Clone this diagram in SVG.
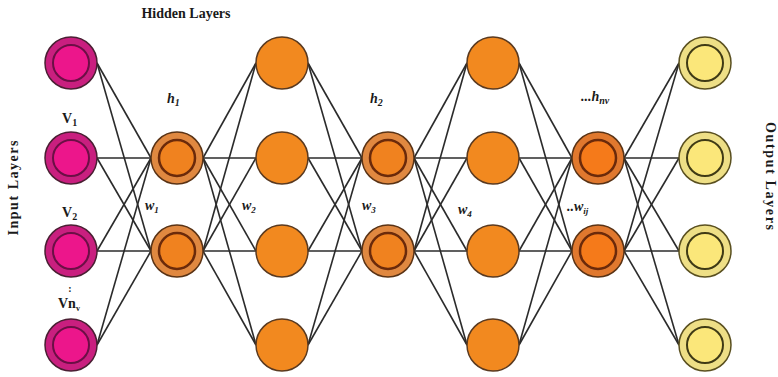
<svg xmlns="http://www.w3.org/2000/svg" width="778" height="377" viewBox="0 0 778 377">
<style>
.bg{fill:#ffffff}
.e line{stroke:#2b2b2b;stroke-width:1.6}
.io{fill:#c91f7f;stroke:#4a1f33;stroke-width:1.5}
.ii{fill:#ec168b;stroke:#6b0f45;stroke-width:2}
.ho{fill:#e08840;stroke:#5a3315;stroke-width:1.5}
.hi{fill:#f0821f;stroke:#6b2a0a;stroke-width:2.5}
.no{fill:#f2891f;stroke:#5a3a20;stroke-width:1.5}
.vo{fill:#e0782e;stroke:#5a3315;stroke-width:1.5}
.vi{fill:#f57a1a;stroke:#6b2a0a;stroke-width:2.5}
.oo{fill:#eedf86;stroke:#5a5020;stroke-width:1.5}
.oi{fill:#fbe77a;stroke:#3f3a15;stroke-width:2}
text{font-family:"Liberation Serif","Times New Roman",serif;fill:#1a1a1a;font-weight:bold}
.it{font-style:italic;font-size:14px}
.lb{font-size:14px}
</style>
<rect class="bg" x="0" y="0" width="778" height="377"/>
<g id="connectors" class="e">
<line x1="97" y1="63" x2="151" y2="158"/><line x1="97" y1="63" x2="151" y2="251"/>
<line x1="97" y1="158" x2="151" y2="158"/><line x1="97" y1="158" x2="151" y2="251"/>
<line x1="97" y1="251" x2="151" y2="158"/><line x1="97" y1="251" x2="151" y2="251"/>
<line x1="97" y1="345" x2="151" y2="158"/><line x1="97" y1="345" x2="151" y2="251"/>
<line x1="203" y1="158" x2="256" y2="63"/><line x1="203" y1="158" x2="256" y2="158"/><line x1="203" y1="158" x2="256" y2="251"/><line x1="203" y1="158" x2="256" y2="345"/>
<line x1="203" y1="251" x2="256" y2="63"/><line x1="203" y1="251" x2="256" y2="158"/><line x1="203" y1="251" x2="256" y2="251"/><line x1="203" y1="251" x2="256" y2="345"/>
<line x1="308" y1="63" x2="362" y2="158"/><line x1="308" y1="63" x2="362" y2="251"/>
<line x1="308" y1="158" x2="362" y2="158"/><line x1="308" y1="158" x2="362" y2="251"/>
<line x1="308" y1="251" x2="362" y2="158"/><line x1="308" y1="251" x2="362" y2="251"/>
<line x1="308" y1="345" x2="362" y2="158"/><line x1="308" y1="345" x2="362" y2="251"/>
<line x1="414" y1="158" x2="467" y2="63"/><line x1="414" y1="158" x2="467" y2="158"/><line x1="414" y1="158" x2="467" y2="251"/><line x1="414" y1="158" x2="467" y2="345"/>
<line x1="414" y1="251" x2="467" y2="63"/><line x1="414" y1="251" x2="467" y2="158"/><line x1="414" y1="251" x2="467" y2="251"/><line x1="414" y1="251" x2="467" y2="345"/>
<line x1="519" y1="63" x2="572" y2="158"/><line x1="519" y1="63" x2="572" y2="251"/>
<line x1="519" y1="158" x2="572" y2="158"/><line x1="519" y1="158" x2="572" y2="251"/>
<line x1="519" y1="251" x2="572" y2="158"/><line x1="519" y1="251" x2="572" y2="251"/>
<line x1="519" y1="345" x2="572" y2="158"/><line x1="519" y1="345" x2="572" y2="251"/>
<line x1="624" y1="158" x2="679" y2="63"/><line x1="624" y1="158" x2="679" y2="158"/><line x1="624" y1="158" x2="679" y2="251"/><line x1="624" y1="158" x2="679" y2="345"/>
<line x1="624" y1="251" x2="679" y2="63"/><line x1="624" y1="251" x2="679" y2="158"/><line x1="624" y1="251" x2="679" y2="251"/><line x1="624" y1="251" x2="679" y2="345"/>
</g>
<g id="in1"><circle class="io" cx="71" cy="63" r="26"/><circle class="ii" cx="71" cy="63" r="18"/></g>
<g id="in2"><circle class="io" cx="71" cy="158" r="26"/><circle class="ii" cx="71" cy="158" r="18"/></g>
<g id="in3"><circle class="io" cx="71" cy="251" r="26"/><circle class="ii" cx="71" cy="251" r="18"/></g>
<g id="in4"><circle class="io" cx="71" cy="345" r="26"/><circle class="ii" cx="71" cy="345" r="18"/></g>
<g id="h1a"><circle class="ho" cx="177" cy="158" r="26"/><circle class="hi" cx="177" cy="158" r="18"/></g>
<g id="h1b"><circle class="ho" cx="177" cy="251" r="26"/><circle class="hi" cx="177" cy="251" r="18"/></g>
<g id="c2a"><circle class="no" cx="282" cy="63" r="26"/></g>
<g id="c2b"><circle class="no" cx="282" cy="158" r="26"/></g>
<g id="c2c"><circle class="no" cx="282" cy="251" r="26"/></g>
<g id="c2d"><circle class="no" cx="282" cy="345" r="26"/></g>
<g id="h2a"><circle class="ho" cx="388" cy="158" r="26"/><circle class="hi" cx="388" cy="158" r="18"/></g>
<g id="h2b"><circle class="ho" cx="388" cy="251" r="26"/><circle class="hi" cx="388" cy="251" r="18"/></g>
<g id="c4a"><circle class="no" cx="493" cy="63" r="26"/></g>
<g id="c4b"><circle class="no" cx="493" cy="158" r="26"/></g>
<g id="c4c"><circle class="no" cx="493" cy="251" r="26"/></g>
<g id="c4d"><circle class="no" cx="493" cy="345" r="26"/></g>
<g id="hnva"><circle class="vo" cx="598" cy="158" r="26"/><circle class="vi" cx="598" cy="158" r="18"/></g>
<g id="hnvb"><circle class="vo" cx="598" cy="251" r="26"/><circle class="vi" cx="598" cy="251" r="18"/></g>
<g id="out1"><circle class="oo" cx="705" cy="63" r="26"/><circle class="oi" cx="705" cy="63" r="18"/></g>
<g id="out2"><circle class="oo" cx="705" cy="158" r="26"/><circle class="oi" cx="705" cy="158" r="18"/></g>
<g id="out3"><circle class="oo" cx="705" cy="251" r="26"/><circle class="oi" cx="705" cy="251" r="18"/></g>
<g id="out4"><circle class="oo" cx="705" cy="345" r="26"/><circle class="oi" cx="705" cy="345" r="18"/></g>
<g id="labels">
<text class="lb" x="186" y="18" text-anchor="middle" font-size="14.5">Hidden Layers</text>
<text class="lb" x="0" y="0" text-anchor="middle" transform="translate(18,188) rotate(-90)" textLength="95">Input Layers</text>
<text class="lb" x="0" y="0" text-anchor="middle" transform="translate(766,176) rotate(90)" textLength="108">Output Layers</text>
<text x="62" y="123" font-size="14">V<tspan font-size="10" dy="3">1</tspan></text>
<text x="62" y="217" font-size="14">V<tspan font-size="10" dy="3">2</tspan></text>
<text x="70" y="292" font-size="10" text-anchor="middle">:</text>
<text x="58" y="308" font-size="14">Vn<tspan font-size="8" dy="3">v</tspan></text>
<text class="it" x="167" y="103">h<tspan font-size="10" dy="3">1</tspan></text>
<text class="it" x="370" y="103">h<tspan font-size="10" dy="3">2</tspan></text>
<text class="it" x="581" y="101">...h<tspan font-size="10" dy="3">nv</tspan></text>
<text class="it" x="145" y="210" font-size="13">w<tspan font-size="9" dy="3">1</tspan></text>
<text class="it" x="242" y="210" font-size="13">w<tspan font-size="9" dy="3">2</tspan></text>
<text class="it" x="362" y="210" font-size="13">w<tspan font-size="9" dy="3">3</tspan></text>
<text class="it" x="458" y="214" font-size="13">w<tspan font-size="9" dy="3">4</tspan></text>
<text class="it" x="567" y="211" font-size="13">..w<tspan font-size="9" dy="3">ij</tspan></text>
</g>
</svg>
